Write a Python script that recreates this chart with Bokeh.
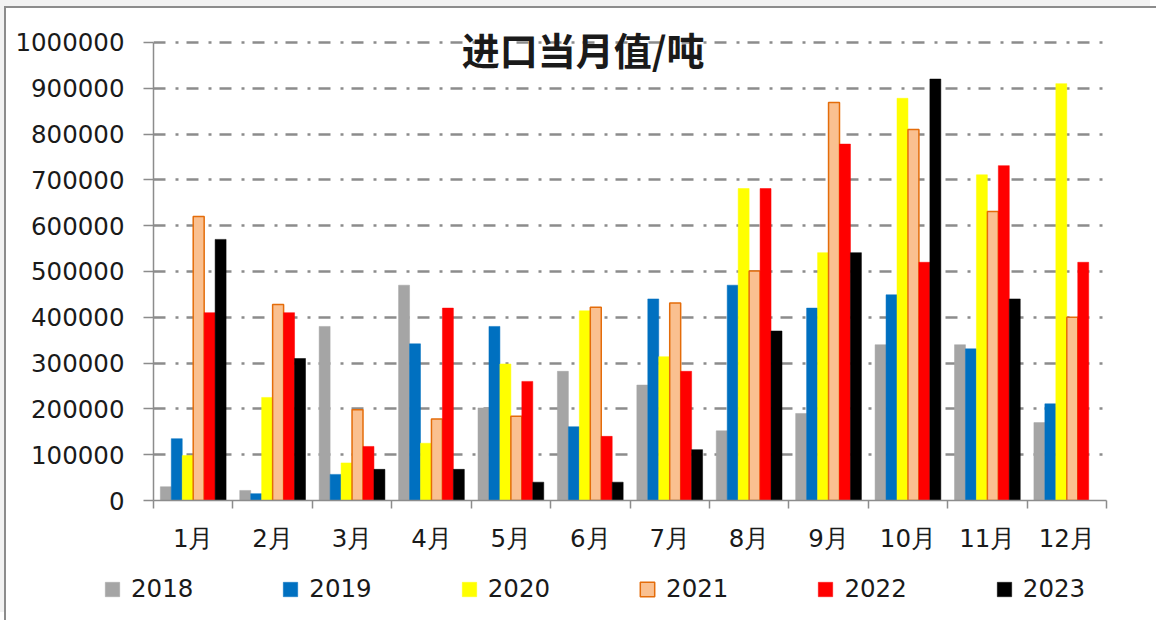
from bokeh.plotting import figure
from bokeh.layouts import column
from bokeh.models import (ColumnDataSource, FixedTicker, NumeralTickFormatter, Legend,
                          LegendItem, Label, Range1d)
from bokeh.transform import dodge
from bokeh.embed import file_html
from bokeh.resources import INLINE

nan = float("nan")

months = ["1月", "2月", "3月", "4月", "5月", "6月", "7月", "8月", "9月", "10月", "11月", "12月"]
month_pos = [1, 2, 3, 4, 5, 6, 7, 8, 9, 10, 11, 12]
years = ["2018", "2019", "2020", "2021", "2022", "2023"]

v2018 = [30000, 22000, 380000, 470000, 202000, 282000, 252000, 152000, 190000, 340000, 340000, 170000]
v2019 = [135000, 15000, 57000, 342000, 380000, 161000, 440000, 470000, 420000, 449000, 331000, 211000]
v2020 = [98000, 225000, 82000, 125000, 298000, 414000, 314000, 681000, 541000, 878000, 711000, 910000]
v2021 = [620000, 428000, 198000, 178000, 184000, 422000, 431000, 501000, 869000, 810000, 631000, 400000]
v2022 = [410000, 410000, 118000, 420000, 260000, 140000, 282000, 681000, 778000, 520000, 731000, 520000]
v2023 = [570000, 310000, 68000, 68000, 40000, 40000, 111000, 370000, 541000, 920000, 440000, nan]

yticks = [0, 100000, 200000, 300000, 400000, 500000, 600000, 700000, 800000, 900000, 1000000]
title_text = "进口当月值/吨"

source = ColumnDataSource(dict(x=month_pos, y2018=v2018, y2019=v2019, y2020=v2020,
                               y2021=v2021, y2022=v2022, y2023=v2023))

W, H = 1150, 560
p = figure(width=W, height=H, output_backend="svg", toolbar_location=None,
           x_range=Range1d(0.5, 12.5), y_range=Range1d(0, 1050000),
           min_border_left=147, min_border_top=11, min_border_right=50, min_border_bottom=68,
           background_fill_color="white", border_fill_color="white")
p.outline_line_color = None

fills = ["#A5A5A5", "#0070C0", "#FFFF00", "#FAC090", "#FF0000", "#000000"]
lines = ["#A5A5A5", "#0070C0", "#FFFF00", "#E46C0A", "#FF0000", "#000000"]
widths = [0.5, 0.5, 0.5, 1.5, 0.5, 0.5]
cols = ["y2018", "y2019", "y2020", "y2021", "y2022", "y2023"]
bw = 0.138
for i, (c, f, l, lw) in enumerate(zip(cols, fills, lines, widths)):
    p.vbar(x=dodge("x", (i - 2.5) * bw, range=p.x_range), top=c, width=bw, source=source,
           fill_color=f, line_color=l, line_width=lw)

grey = "#8c8c8c"
font = "DejaVu Sans"
fsize = "24.5px"

# x axis
p.xaxis.ticker = FixedTicker(ticks=month_pos, minor_ticks=[m - 0.5 for m in month_pos] + [12.5])
p.xaxis.major_label_overrides = {m: lab for m, lab in zip(month_pos, months)}
p.xaxis.major_tick_out = 0
p.xaxis.major_tick_in = 0
p.xaxis.minor_tick_out = 8
p.xaxis.minor_tick_in = 0
p.xaxis.minor_tick_line_color = grey
p.xaxis.minor_tick_line_width = 1.5
p.xaxis.axis_line_color = grey
p.xaxis.axis_line_width = 1.5
p.xaxis.major_label_standoff = 15
p.xaxis.major_label_text_font = font
p.xaxis.major_label_text_font_size = fsize
p.xaxis.major_label_text_color = "#1a1a1a"

# y axis
p.yaxis.ticker = FixedTicker(ticks=yticks)
p.yaxis.bounds = (0, 1000000)
p.yaxis.formatter = NumeralTickFormatter(format="0")
p.yaxis.major_tick_out = 10
p.yaxis.major_tick_in = 0
p.yaxis.minor_tick_line_color = None
p.yaxis.major_tick_line_color = grey
p.yaxis.major_tick_line_width = 1.5
p.yaxis.axis_line_color = grey
p.yaxis.axis_line_width = 1.5
p.yaxis.major_label_standoff = 19
p.yaxis.major_label_text_font = font
p.yaxis.major_label_text_font_size = fsize
p.yaxis.major_label_text_color = "#1a1a1a"

p.xgrid.grid_line_color = None
p.ygrid.ticker = FixedTicker(ticks=yticks)
p.ygrid.grid_line_color = grey
p.ygrid.grid_line_width = 2.5
p.ygrid.grid_line_dash = "12 10 3 8"

title = Label(x=5.91, y=987000, text=title_text, text_align="center", text_baseline="middle",
              text_font="Noto Sans CJK SC", text_font_style="bold", text_font_size="38px",
              text_color="#1a1a1a")
p.add_layout(title)

# legend strip (separate figure so the legend can sit left of the plot frame)
q = figure(width=W, height=52, output_backend="svg", toolbar_location=None,
           x_range=Range1d(0, 1), y_range=Range1d(0, 1),
           x_axis_location=None, y_axis_location=None,
           min_border_left=0, min_border_right=0, min_border_top=0, min_border_bottom=0,
           background_fill_color="white", border_fill_color="white")
q.frame_align = False
q.outline_line_color = None
q.grid.visible = False
legend_renderers = []
for f, l, lw in zip(fills, lines, widths):
    legend_renderers.append(q.vbar(x=[nan], top=[nan], width=0.1,
                                   fill_color=f, line_color=l, line_width=lw))
legend = Legend(items=[LegendItem(label=y, renderers=[r]) for y, r in zip(years, legend_renderers)],
                orientation="horizontal", location=(97, 17), spacing=88,
                glyph_width=18, glyph_height=18, label_standoff=10, padding=0, margin=0,
                border_line_alpha=0, background_fill_alpha=0,
                label_text_font=font, label_text_font_size=fsize, label_text_color="#1a1a1a")
q.add_layout(legend)

layout = column(p, q, spacing=0)
layout.styles = {"border-left": "2px solid #8c8c8c", "border-top": "2px solid #8c8c8c",
                 "margin-left": "4px", "margin-top": "6px",
                 "box-shadow": "-6px -8px 0 0 #f2f2f2", "background": "white"}

open("out.html", "w").write(file_html(layout, INLINE))
